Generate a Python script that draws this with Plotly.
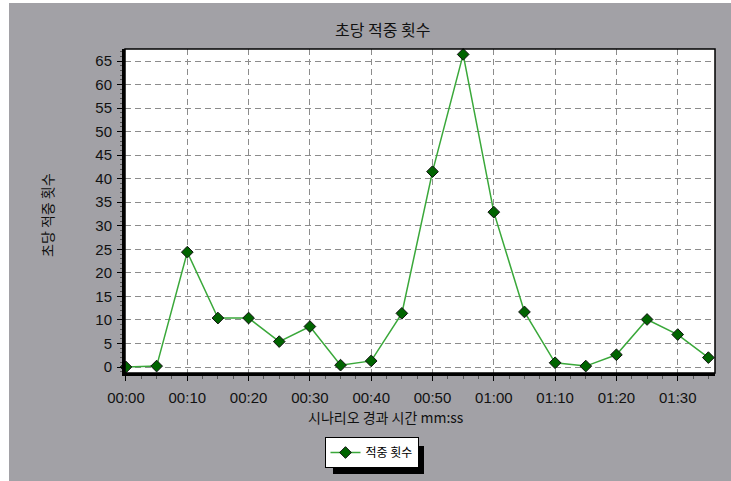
import plotly.graph_objects as go

# ---- data ----
elapsed_sec = [0, 5, 10, 15, 20, 25, 30, 35, 40, 45, 50, 55, 60, 65, 70, 75, 80, 85, 90, 95]
hits_per_sec = [0.0, 0.2, 24.4, 10.4, 10.4, 5.4, 8.6, 0.4, 1.3, 11.4, 41.5, 66.4, 32.9, 11.7, 0.9, 0.2, 2.6, 10.1, 6.9, 2.0]
x_tick_vals = [0, 10, 20, 30, 40, 50, 60, 70, 80, 90]
x_tick_text = ["00:00", "00:10", "00:20", "00:30", "00:40", "00:50", "01:00", "01:10", "01:20", "01:30"]
y_tick_vals = [0, 5, 10, 15, 20, 25, 30, 35, 40, 45, 50, 55, 60, 65]

title_text = "초당 적중 횟수"
x_title_text = "시나리오 경과 시간 mm:ss"
y_title_text = "초당 적중 횟수"
series_name = "적중 횟수"

W, H = 731, 481
L, R, T, B = 125, 16, 49, 108
PW, PH = W - L - R, H - T - B

def px(x):
    return (x - L) / PW

def py(y):
    return (H - B - y) / PH

GRAY = "#A2A1A6"
KFONT = "Noto Sans CJK KR, Noto Sans, sans-serif"
NFONT = "Liberation Sans, Arial, sans-serif"

fig = go.Figure()
fig.add_trace(go.Scatter(
    x=elapsed_sec, y=hits_per_sec, name=series_name,
    mode="lines+markers",
    line=dict(color="#3AA83A", width=1.5),
    marker=dict(symbol="diamond", size=9, color="#006400", line=dict(color="#111111", width=1)),
    cliponaxis=False,
))

fig.update_layout(
    width=W, height=H,
    margin=dict(l=L, r=R, t=T, b=B, pad=0),
    paper_bgcolor="white",
    plot_bgcolor="white",
    showlegend=True,
    legend=dict(
        x=px(371.5), y=py(452.5), xanchor="center", yanchor="middle",
        bgcolor="white", bordercolor="black", borderwidth=1,
        font=dict(family=KFONT, size=12, color="black"),
        itemwidth=30,
    ),
    shapes=[
        dict(type="rect", xref="paper", yref="paper", layer="below",
             x0=px(9), x1=px(W + 5), y0=py(H + 5), y1=py(3),
             fillcolor=GRAY, line=dict(width=0)),
        dict(type="rect", xref="paper", yref="paper", layer="below",
             x0=0, x1=1, y0=0, y1=1, fillcolor="white", line=dict(width=0)),
        dict(type="rect", xref="paper", yref="paper", layer="below",
             x0=px(333), x1=px(424), y0=py(474), y1=py(446),
             fillcolor="black", line=dict(width=0)),
        dict(type="rect", xref="paper", yref="paper", layer="above",
             x0=0, x1=1, y0=0, y1=1, line=dict(color="black", width=1.5)),
    ],
    annotations=[
        dict(text=title_text, xref="paper", yref="paper", x=px(383), y=py(28.5),
             xanchor="center", yanchor="middle", showarrow=False,
             font=dict(family=KFONT, size=16, color="#111111")),
        dict(text=x_title_text, xref="paper", yref="paper", x=px(386), y=py(417),
             xanchor="center", yanchor="middle", showarrow=False,
             font=dict(family=KFONT, size=14, color="#111111")),
        dict(text=y_title_text, xref="paper", yref="paper", x=px(47), y=py(215),
             xanchor="center", yanchor="middle", showarrow=False, textangle=-90,
             font=dict(family=KFONT, size=14, color="#111111")),
    ],
)

fig.update_xaxes(
    range=[-0.16, 96.08], tickvals=x_tick_vals, ticktext=x_tick_text,
    showgrid=True, gridcolor="#8C8C8C", gridwidth=1, griddash="6px,4px",
    zeroline=False,
    showline=True, linecolor="black", linewidth=3,
    ticks="outside", ticklen=5, tickcolor="black", tickwidth=1,
    minor=dict(dtick=2.5, tick0=0, ticks="outside", ticklen=3, tickcolor="#555555", showgrid=False),
    tickfont=dict(family=NFONT, size=15, color="#111111"),
    ticklabelstandoff=4,
    fixedrange=True,
)
fig.update_yaxes(
    range=[-1.27, 67.55], tickvals=y_tick_vals,
    showgrid=True, gridcolor="#8C8C8C", gridwidth=1, griddash="6px,4px",
    zeroline=False,
    showline=True, linecolor="black", linewidth=3,
    ticks="outside", ticklen=5, tickcolor="black", tickwidth=1,
    minor=dict(dtick=1, tick0=0, ticks="outside", ticklen=2, tickcolor="#555555", showgrid=False),
    tickfont=dict(family=NFONT, size=15, color="#111111"),
    ticklabelstandoff=2,
    fixedrange=True,
)

fig.write_html(
    "out.html",
    config=dict(displayModeBar=False),
    post_script="document.body.style.margin='0';document.body.style.overflow='hidden';",
)
